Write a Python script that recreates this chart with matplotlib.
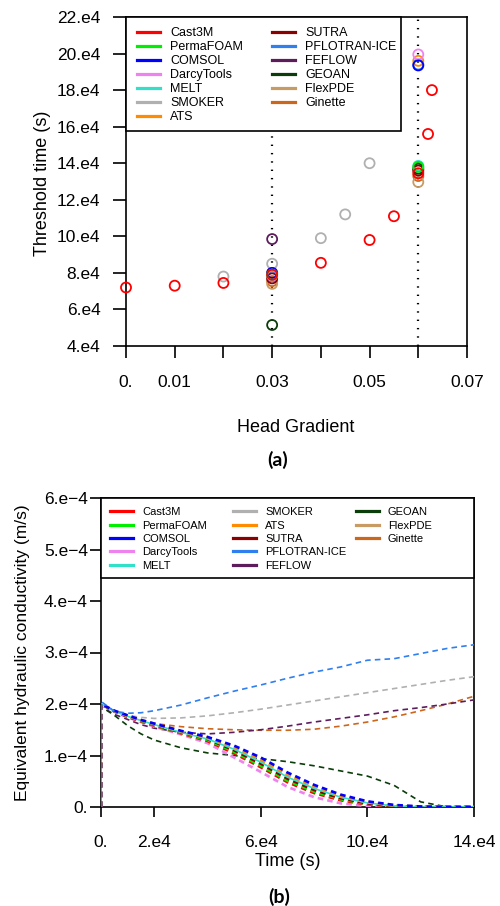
import matplotlib
matplotlib.use("Agg")
import matplotlib.pyplot as plt
from matplotlib.lines import Line2D
from matplotlib.legend import Legend
from matplotlib.patches import Rectangle
import numpy as np

plt.rcParams['font.family'] = ['Liberation Sans', 'DejaVu Sans']
plt.rcParams['lines.scale_dashes'] = False

# ------------------------- data --------------------------------
models = ['Cast3M', 'PermaFOAM', 'COMSOL', 'DarcyTools', 'MELT', 'SMOKER', 'ATS',
          'SUTRA', 'PFLOTRAN-ICE', 'FEFLOW', 'GEOAN', 'FlexPDE', 'Ginette']
colours = ['#ff0000', '#00ee00', '#0000ff', '#ee82ee', '#30e0c8', '#b0b0b0', '#ff8c00',
           '#8b0000', '#2f7fef', '#5d1d5d', '#0b3d0b', '#c89a64', '#cd661d']

# (a) threshold time vs head gradient, time in units of 1e4 s
thr_grad = [[0, 0.01, 0.02, 0.03, 0.04, 0.05, 0.055, 0.06, 0.062, 0.0628],
            [0.03, 0.06], [0.03, 0.06], [0.03, 0.06], [0.03, 0.06],
            [0.02, 0.03, 0.04, 0.045, 0.05],
            [0.03, 0.06], [0.03, 0.06], [0.03, 0.06], [0.03],
            [0.03, 0.06], [0.03, 0.06], [0.03, 0.06]]
thr_time = [[7.2, 7.3, 7.45, 7.9, 8.55, 9.8, 11.1, 13.45, 15.6, 18.0],
            [7.9, 13.8], [8.0, 19.35], [7.85, 19.95], [7.9, 13.85],
            [7.8, 8.5, 9.9, 11.2, 14.0],
            [8.0, 19.6], [7.7, 13.6], [7.8, 19.4], [9.85],
            [5.15, 13.7], [7.4, 12.97], [7.55, 13.3]]
crit_grad = [0.03, 0.06]

# (b) equivalent hydraulic conductivity (1e-4 m/s) vs time (1e4 s)
t_k = [0, 0, 0.5, 1, 1.5, 2, 3, 4, 5, 6, 7, 8, 9, 10, 11, 12, 13, 14]
k_eq = [
    [0, 2.0, 1.86, 1.75, 1.66, 1.58, 1.43, 1.28, 1.04, 0.77, 0.48, 0.27, 0.13, 0.05, 0.01, 0, 0, 0],
    [0, 2.0, 1.86, 1.76, 1.67, 1.59, 1.44, 1.30, 1.07, 0.80, 0.51, 0.30, 0.15, 0.06, 0.02, 0, 0, 0],
    [0, 2.0, 1.87, 1.78, 1.69, 1.62, 1.48, 1.36, 1.19, 0.96, 0.67, 0.43, 0.24, 0.11, 0.04, 0.01, 0, 0],
    [0, 2.0, 1.85, 1.74, 1.65, 1.56, 1.41, 1.24, 0.96, 0.68, 0.39, 0.19, 0.07, 0.02, 0, 0, 0, 0],
    [0, 2.0, 1.86, 1.76, 1.68, 1.60, 1.45, 1.32, 1.12, 0.87, 0.58, 0.36, 0.19, 0.08, 0.02, 0, 0, 0],
    [0, 2.0, 1.86, 1.78, 1.74, 1.72, 1.73, 1.77, 1.83, 1.90, 1.98, 2.06, 2.14, 2.22, 2.30, 2.38, 2.46, 2.53],
    [0, 2.0, 1.87, 1.77, 1.69, 1.62, 1.47, 1.35, 1.17, 0.93, 0.64, 0.41, 0.22, 0.10, 0.03, 0.01, 0, 0],
    [0, 2.0, 1.86, 1.76, 1.68, 1.60, 1.45, 1.32, 1.10, 0.84, 0.55, 0.33, 0.17, 0.07, 0.02, 0, 0, 0],
    [0, 2.05, 1.86, 1.82, 1.83, 1.87, 1.98, 2.12, 2.25, 2.37, 2.50, 2.62, 2.72, 2.85, 2.88, 2.98, 3.08, 3.15],
    [0, 1.95, 1.80, 1.70, 1.60, 1.53, 1.45, 1.42, 1.45, 1.50, 1.57, 1.65, 1.72, 1.79, 1.87, 1.93, 2.00, 2.08],
    [0, 1.95, 1.78, 1.58, 1.42, 1.30, 1.15, 1.05, 1.00, 0.94, 0.88, 0.80, 0.70, 0.60, 0.42, 0.10, 0, 0],
    [0, 2.0, 1.86, 1.77, 1.68, 1.61, 1.46, 1.34, 1.15, 0.90, 0.61, 0.38, 0.20, 0.09, 0.03, 0, 0, 0],
    [0, 2.0, 1.87, 1.75, 1.68, 1.62, 1.56, 1.52, 1.50, 1.49, 1.49, 1.51, 1.57, 1.65, 1.75, 1.87, 2.00, 2.15],
]
thick = ['Cast3M', 'PermaFOAM', 'COMSOL', 'DarcyTools', 'ATS', 'SUTRA', 'FlexPDE']
draw_order = [12, 9, 5, 10, 3, 0, 1, 7, 11, 4, 6, 2, 8]

grad_ticks = [0, 0.01, 0.02, 0.03, 0.04, 0.05, 0.06, 0.07]
grad_labels = ['0.', '0.01', '', '0.03', '', '0.05', '', '0.07']
thr_ticks = [4, 6, 8, 10, 12, 14, 16, 18, 20, 22]
time_ticks = [0, 2, 6, 10, 14]
k_ticks = [0, 1, 2, 3, 4, 5, 6]


def legend_column(ax, names, cols, x, y, fs, hl, hp, ls):
    handles = [Line2D([], [], color=c, lw=2.3) for c in cols]
    leg = Legend(ax, handles, names, loc='upper left', bbox_to_anchor=(x, y),
                 bbox_transform=ax.transAxes, frameon=False, fontsize=fs,
                 handlelength=hl, handletextpad=hp, labelspacing=ls,
                 borderpad=0, borderaxespad=0)
    leg.set_zorder(6)
    ax.add_artist(leg)


fig = plt.figure(figsize=(5, 9.06), dpi=100)

# ------------------------- (a) --------------------------------
ax1 = fig.add_axes([126/500, 1-346/906, 341/500, 329/906])
for i in reversed(range(len(models))):
    ax1.scatter(thr_grad[i], np.array(thr_time[i])*1e4, s=52, facecolors='none',
                edgecolors=colours[i], linewidths=1.3, zorder=3, clip_on=False)
for g in crit_grad:
    ax1.axvline(g, color='black', lw=1.6, linestyle=(0, (1, 5)), zorder=2)
ax1.set_xlim(0, 0.07)
ax1.set_ylim(4e4, 22e4)
ax1.set_xticks(grad_ticks)
ax1.set_xticklabels(grad_labels)
ax1.set_yticks(np.array(thr_ticks)*1e4)
ax1.set_yticklabels([str(v)+'.e4' for v in thr_ticks])
ax1.tick_params(axis='x', length=8.6, width=1.2, pad=12, labelsize=12.5, direction='out')
ax1.tick_params(axis='y', length=9.4, width=1.2, pad=9, labelsize=12.5, direction='out')
for s in ax1.spines.values():
    s.set_linewidth(1.2)

ax1.add_patch(Rectangle((0, 0.6535), 0.806, 0.3465, transform=ax1.transAxes,
                        facecolor='white', edgecolor='black', lw=1.2, zorder=5, clip_on=False))
legend_column(ax1, models[:7], colours[:7], 0.0323, 0.969, 9, 1.85, 0.8, 0.16)
legend_column(ax1, models[7:], colours[7:], 0.428, 0.969, 9, 1.85, 0.8, 0.16)

fig.text(296/500, 1-428/906, 'Head Gradient', ha='center', va='center', fontsize=13)
fig.text(43/500, 1-183/906, 'Threshold time (s)', ha='center', va='center',
         rotation=90, fontsize=13)
fig.text(278/500, 1-460/906, '(a)', ha='center', va='center', fontsize=14,
         fontweight='bold', family=['Lato', 'DejaVu Sans'])

# ------------------------- (b) --------------------------------
ax2 = fig.add_axes([101/500, 1-807/906, 373/500, 309/906])
for i in draw_order:
    if models[i] == 'MELT':
        style = '-'
        lw = 1.2
    else:
        style = (0, (4, 3))
        lw = 1.9 if models[i] in thick else 1.2
    ax2.plot(np.array(t_k)*1e4, np.array(k_eq[i])*1e-4, color=colours[i],
             linestyle=style, lw=lw, zorder=3)
ax2.set_xlim(0, 14e4)
ax2.set_ylim(0, 6e-4)
ax2.set_xticks(np.array(time_ticks)*1e4)
ax2.set_xticklabels(['0.' if v == 0 else str(v)+'.e4' for v in time_ticks])
ax2.set_yticks(np.array(k_ticks)*1e-4)
ax2.set_yticklabels(['0.' if v == 0 else str(v)+'.e\u22124' for v in k_ticks])
ax2.tick_params(axis='x', length=7.2, width=1.2, pad=13, labelsize=12.5, direction='out')
ax2.tick_params(axis='y', length=8, width=1.2, pad=1.5, labelsize=12.5, direction='out')
for s in ax2.spines.values():
    s.set_linewidth(1.2)

ax2.add_patch(Rectangle((0, 0.7411), 1, 0.2589, transform=ax2.transAxes,
                        facecolor='white', edgecolor='black', lw=1.2, zorder=5, clip_on=False))
legend_column(ax2, models[:5], colours[:5], 0.0241, 0.970, 8, 2.05, 0.83, 0.3)
legend_column(ax2, models[5:10], colours[5:10], 0.3539, 0.970, 8, 2.05, 0.83, 0.3)
legend_column(ax2, models[10:], colours[10:], 0.6836, 0.970, 8, 2.05, 0.83, 0.3)

fig.text(288/500, 1-861/906, 'Time (s)', ha='center', va='center', fontsize=13)
fig.text(23/500, 1-653/906, 'Equivalent hydraulic conductivity (m/s)', ha='center',
         va='center', rotation=90, fontsize=12.5)
fig.text(279/500, 1-897/906, '(b)', ha='center', va='center', fontsize=14,
         fontweight='bold', family=['Lato', 'DejaVu Sans'])

fig.savefig('out.png', dpi=100)
